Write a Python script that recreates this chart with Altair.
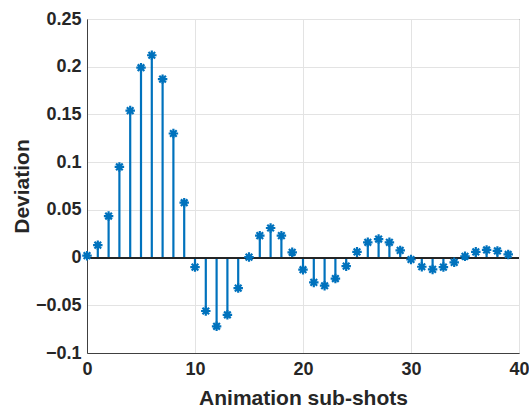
import altair as alt
import pandas as pd

shots = list(range(40))
deviation = [0.002, 0.013, 0.0435, 0.095, 0.154, 0.199, 0.212, 0.187, 0.130, 0.0575,
             -0.010, -0.056, -0.072, -0.060, -0.032, 0.0005, 0.023, 0.031, 0.023, 0.0055,
             -0.0127, -0.026, -0.0295, -0.022, -0.009, 0.006, 0.016, 0.0194, 0.016, 0.0075,
             -0.002, -0.0096, -0.0124, -0.010, -0.005, 0.0013, 0.006, 0.008, 0.007, 0.0033]

df = pd.DataFrame({"x": shots, "y": deviation})

BLUE = "#0072BD"
FONT = "Liberation Sans"

xs = alt.Scale(domain=[0, 40], nice=False, zero=False)
ys = alt.Scale(domain=[-0.1, 0.25], nice=False, zero=False)

xaxis = alt.Axis(values=[0, 10, 20, 30, 40], title="Animation sub-shots", format="d",
                 grid=True, gridColor="#e3e3e3", ticks=False, domainColor="#404040",
                 labelFlush=False,
                 labelFont=FONT, labelFontSize=18, labelFontWeight="bold", labelColor="#262626",
                 labelPadding=7, titleFont=FONT, titleFontSize=21, titleFontWeight="bold",
                 titleColor="#262626", titlePadding=9)
yaxis = alt.Axis(values=[-0.1, -0.05, 0, 0.05, 0.1, 0.15, 0.2, 0.25], title="Deviation",
                 grid=True, gridColor="#e3e3e3", ticks=False, domainColor="#404040",
                 labelFlush=False,
                 labelFont=FONT, labelFontSize=18, labelFontWeight="bold", labelColor="#262626",
                 labelPadding=6, labelExpr="datum.value == 0 ? '0' : format(datum.value, '.2~f')",
                 titleFont=FONT, titleFontSize=21, titleFontWeight="bold",
                 titleColor="#262626", titlePadding=3)

base = alt.Chart(df)

baseline = base.mark_rule(color="#262626", strokeWidth=1.2).encode(
    y=alt.datum(0, scale=ys, axis=yaxis)
)

stems = base.mark_rule(color=BLUE, strokeWidth=2.2).encode(
    x=alt.X("x:Q", scale=xs, axis=xaxis),
    y=alt.Y("y:Q", scale=ys, axis=yaxis),
    y2=alt.datum(0),
)

asterisk = "M-1,0L1,0M0,-1L0,1M-0.7,-0.7L0.7,0.7M-0.7,0.7L0.7,-0.7"
points = base.mark_point(shape=asterisk, size=90, strokeWidth=2.2, color=BLUE, filled=False, opacity=1).encode(
    x=alt.X("x:Q", scale=xs, axis=xaxis),
    y=alt.Y("y:Q", scale=ys, axis=yaxis),
)

chart = alt.layer(stems, baseline, points).properties(
    width=432, height=334,
    autosize=alt.AutoSizeParams(type="none"),
    padding={"left": 87, "top": 19, "right": 10, "bottom": 54},
    background="white",
).configure_view(stroke="#404040", strokeWidth=1)

chart.save("out.html", embed_options={"renderer": "svg", "actions": False})
